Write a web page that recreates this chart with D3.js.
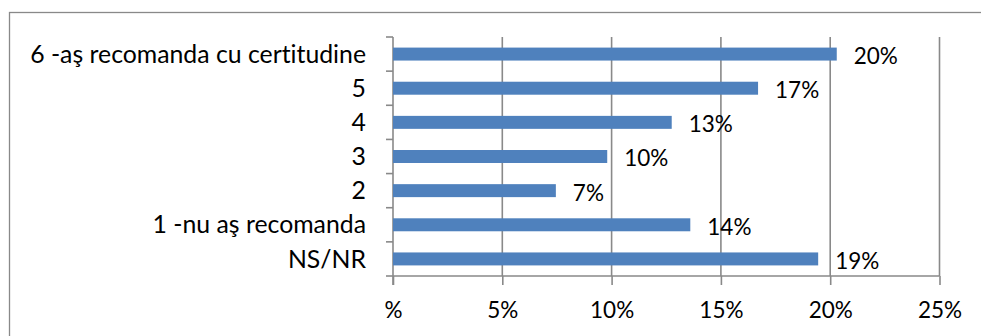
<!DOCTYPE html>
<html>
<head>
<meta charset="utf-8">
<script src="https://cdn.jsdelivr.net/npm/d3@7"></script>
<style>
  html, body { margin: 0; padding: 0; background: #fff; }
  svg { display: block; }
  text { font-family: Lato, "Open Sans", sans-serif; fill: #000; font-variant-ligatures: none; }
</style>
</head>
<body>
<svg id="chart" width="981" height="336"></svg>
<script>
// Answers to "Would you recommend…?" (share of respondents)
const categories = [
  "6 -aş recomanda cu certitudine",
  "5",
  "4",
  "3",
  "2",
  "1 -nu aş recomanda",
  "NS/NR"
];
const shares = [0.203, 0.167, 0.1275, 0.098, 0.0745, 0.136, 0.1945];
const tickValues = [0, 0.05, 0.10, 0.15, 0.20, 0.25];
const tickLabels = ["%", "5%", "10%", "15%", "20%", "25%"];

const svg = d3.select("#chart");
const W = 981, H = 336;
const plot = { left: 393, right: 939.5, top: 37, bottom: 276 };
const grey = "#898989";
const barColor = "#4F81BD";
const fontSize = 24.8;
const valueSize = 22.5;

// frame around the chart area
svg.append("rect")
  .attr("x", 9.5).attr("y", 12.5)
  .attr("width", W + 20).attr("height", H + 20)
  .attr("fill", "none").attr("stroke", grey).attr("stroke-width", 1.3);

const x = d3.scaleLinear().domain([0, 0.25]).range([plot.left, plot.right]);
const y = d3.scaleBand().domain(categories)
  .range([plot.top, plot.bottom])
  .paddingInner(0.62).paddingOuter(0.31);
const step = y.step();

// vertical gridlines
svg.append("g").selectAll("line")
  .data(tickValues.slice(1))
  .join("line")
  .attr("x1", d => x(d)).attr("x2", d => x(d))
  .attr("y1", plot.top).attr("y2", plot.bottom)
  .attr("stroke", grey).attr("stroke-width", 1.6);

// x axis with tick labels
const xAxis = d3.axisBottom(x)
  .tickValues(tickValues)
  .tickSize(9)
  .tickPadding(17)
  .tickFormat((d, i) => tickLabels[i]);
const gx = svg.append("g")
  .attr("transform", `translate(0,${plot.bottom})`)
  .call(xAxis);
gx.select(".domain").attr("stroke", grey).attr("stroke-width", 1.6)
  .attr("d", `M${plot.left},0H${plot.right}`);
gx.selectAll(".tick line").attr("stroke", grey).attr("stroke-width", 1.6);
gx.selectAll(".tick text")
  .style("font-family", "Lato, 'Open Sans', sans-serif")
  .attr("font-size", valueSize).attr("fill", "#000");

// y axis: line with ticks at category boundaries
const gy = svg.append("g");
gy.append("line")
  .attr("x1", plot.left).attr("x2", plot.left)
  .attr("y1", plot.top).attr("y2", plot.bottom + 9)
  .attr("stroke", grey).attr("stroke-width", 1.6);
gy.selectAll("line.tk")
  .data(d3.range(categories.length + 1))
  .join("line").attr("class", "tk")
  .attr("x1", plot.left - 7).attr("x2", plot.left)
  .attr("y1", i => plot.top + i * step).attr("y2", i => plot.top + i * step)
  .attr("stroke", grey).attr("stroke-width", 1.6);

// category labels
svg.append("g").selectAll("text")
  .data(categories)
  .join("text")
  .attr("x", 366)
  .attr("y", d => y(d) + y.bandwidth() / 2)
  .attr("dy", "0.35em")
  .attr("text-anchor", "end")
  .attr("font-size", fontSize)
  .text(d => d);

// bars
svg.append("g").selectAll("rect")
  .data(categories)
  .join("rect")
  .attr("x", x(0))
  .attr("y", d => y(d))
  .attr("width", (d, i) => x(shares[i]) - x(0))
  .attr("height", y.bandwidth())
  .attr("fill", barColor);

// value labels
const pct = d3.format(".0%");
svg.append("g").selectAll("text")
  .data(categories)
  .join("text")
  .attr("x", (d, i) => x(shares[i]) + 17)
  .attr("y", d => y(d) + y.bandwidth() / 2 + 2)
  .attr("dy", "0.35em")
  .attr("font-size", valueSize)
  .text((d, i) => pct(shares[i]));
</script>
</body>
</html>
